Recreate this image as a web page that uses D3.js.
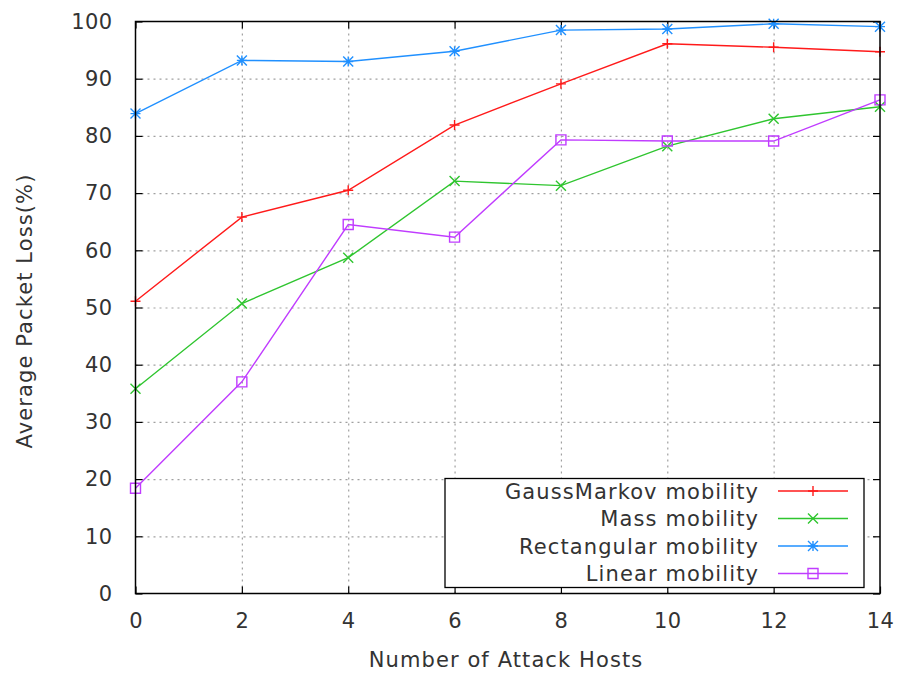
<!DOCTYPE html>
<html lang="en">
  <head>
    <meta charset="utf-8" />
    <title>Average Packet Loss</title>
    <script src="https://d3js.org/d3.v7.min.js"></script>
    <style type="text/css">
      body {
        margin: 0;
        background: #fff;
      }
      text {
        font-family: "DejaVu Sans", sans-serif;
        fill: #333;
      }
      .label {
        letter-spacing: 1.1px;
      }
      .grid line {
        stroke: #a0a0a0;
        stroke-dasharray: 2, 4;
      }
      .grid path {
        display: none;
      }
      .mirror text {
        display: none;
      }
    </style>
  </head>
  <body>
    <script type="text/javascript">
      // data
      var hosts = [0, 2, 4, 6, 8, 10, 12, 14];
      var gaussMarkov = [51.1, 65.8, 70.5, 81.9, 89.1, 96.1, 95.5, 94.7];
      var mass = [35.8, 50.7, 58.7, 72.1, 71.3, 78.2, 83.0, 85.1];
      var rectangular = [83.9, 93.2, 93.0, 94.8, 98.5, 98.7, 99.6, 99.1];
      var linear = [18.4, 37.0, 64.5, 62.3, 79.3, 79.1, 79.1, 86.3];
      var seriesNames = [
        "GaussMarkov mobility",
        "Mass mobility",
        "Rectangular mobility",
        "Linear mobility"
      ];
      var xTicks = [0, 2, 4, 6, 8, 10, 12, 14];
      var yTicks = [0, 10, 20, 30, 40, 50, 60, 70, 80, 90, 100];

      var colors = ["#ff1a1a", "#2fc52f", "#2090ff", "#c03cff"];
      var markers = ["plus", "cross", "star", "square"];
      var allSeries = [gaussMarkov, mass, rectangular, linear];

      var w = 899;
      var h = 677;
      var margin = { top: 21.5, right: 19, bottom: 83.5, left: 135.5 };
      var width = w - margin.left - margin.right;
      var height = h - margin.top - margin.bottom;

      var x = d3.scaleLinear().domain([0, 14]).range([0, width]);
      var y = d3.scaleLinear().domain([0, 100]).range([height, 0]);

      var svg = d3
        .select("body")
        .append("svg")
        .attr("width", w)
        .attr("height", h)
        .style("display", "block");

      svg.append("rect").attr("width", w).attr("height", h).attr("fill", "#fff");

      var g = svg
        .append("g")
        .attr("transform", "translate(" + margin.left + "," + margin.top + ")");

      // dotted grid
      g.append("g")
        .attr("class", "grid")
        .call(d3.axisLeft(y).tickValues(yTicks.slice(1, -1)).tickSize(-width).tickFormat(""));
      g.append("g")
        .attr("class", "grid")
        .attr("transform", "translate(0," + height + ")")
        .call(d3.axisBottom(x).tickValues(xTicks.slice(1, -1)).tickSize(-height).tickFormat(""));

      // axes with inward ticks
      var fontSize = 21;
      g.append("g")
        .call(d3.axisLeft(y).tickValues(yTicks).tickSize(-7).tickPadding(23).tickFormat(d3.format("d")));
      g.append("g")
        .attr("transform", "translate(0," + height + ")")
        .call(d3.axisBottom(x).tickValues(xTicks).tickSize(-7).tickPadding(20).tickFormat(d3.format("d")));
      g.append("g")
        .attr("class", "mirror")
        .call(d3.axisTop(x).tickValues(xTicks).tickSize(-7));
      g.append("g")
        .attr("class", "mirror")
        .attr("transform", "translate(" + width + ",0)")
        .call(d3.axisRight(y).tickValues(yTicks).tickSize(-7));

      g.selectAll(".tick text")
        .attr("fill", "#333")
        .style("font-size", fontSize + "px")
        .style("letter-spacing", "0.4px")
        .style("font-family", "'DejaVu Sans', sans-serif");
      g.selectAll(".domain").remove();
      g.selectAll(".tick line").attr("stroke", "#000").attr("stroke-width", 1.2);

      // marker paths
      function markerPath(type, s) {
        if (type === "plus") {
          return "M" + -s + ",0H" + s + "M0," + -s + "V" + s;
        }
        if (type === "cross") {
          return "M" + -s + "," + -s + "L" + s + "," + s + "M" + -s + "," + s + "L" + s + "," + -s;
        }
        if (type === "star") {
          return (
            "M" + -s + ",0H" + s + "M0," + -s + "V" + s +
            "M" + -s + "," + -s + "L" + s + "," + s + "M" + -s + "," + s + "L" + s + "," + -s
          );
        }
        return "M" + -s + "," + -s + "H" + s + "V" + s + "H" + -s + "Z";
      }

      var line = d3
        .line()
        .x(function (d, i) { return x(hosts[i]); })
        .y(function (d) { return y(d); });

      allSeries.forEach(function (values, k) {
        var sg = g.append("g");
        sg.append("path")
          .datum(values)
          .attr("d", line)
          .attr("fill", "none")
          .attr("stroke", colors[k])
          .attr("stroke-width", 1.4);
        sg.selectAll(".mk")
          .data(values)
          .enter()
          .append("path")
          .attr("class", "mk")
          .attr("transform", function (d, i) {
            return "translate(" + x(hosts[i]) + "," + y(d) + ")";
          })
          .attr("d", markerPath(markers[k], 5))
          .attr("fill", "none")
          .attr("stroke", colors[k])
          .attr("stroke-width", 1.4);
      });

      // frame
      g.append("rect")
        .attr("width", width)
        .attr("height", height)
        .attr("fill", "none")
        .attr("stroke", "#000")
        .attr("stroke-width", 1.5);

      // legend
      var legend = svg.append("g").attr("transform", "translate(445,478.5)");
      legend
        .append("rect")
        .attr("width", 419)
        .attr("height", 109)
        .attr("fill", "#fff")
        .attr("stroke", "#000")
        .attr("stroke-width", 1.3);
      seriesNames.forEach(function (name, k) {
        var ly = 12.5 + k * 27.5;
        legend
          .append("text")
          .attr("class", "label")
          .attr("x", 314)
          .attr("y", ly)
          .attr("dy", "0.36em")
          .attr("text-anchor", "end")
          .style("font-size", fontSize + "px")
          .text(name);
        legend
          .append("line")
          .attr("x1", 333)
          .attr("x2", 403)
          .attr("y1", ly)
          .attr("y2", ly)
          .attr("stroke", colors[k])
          .attr("stroke-width", 1.4);
        legend
          .append("path")
          .attr("transform", "translate(368," + ly + ")")
          .attr("d", markerPath(markers[k], 5))
          .attr("fill", "none")
          .attr("stroke", colors[k])
          .attr("stroke-width", 1.4);
      });

      // axis titles
      svg
        .append("text")
        .attr("class", "label")
        .attr("x", 506)
        .attr("y", 667)
        .attr("text-anchor", "middle")
        .style("font-size", fontSize + "px")
        .text("Number of Attack Hosts");
      svg
        .append("text")
        .attr("class", "label")
        .attr("transform", "translate(32,311) rotate(-90)")
        .attr("text-anchor", "middle")
        .style("font-size", fontSize + "px")
        .text("Average Packet Loss(%)");
    </script>
  </body>
</html>
